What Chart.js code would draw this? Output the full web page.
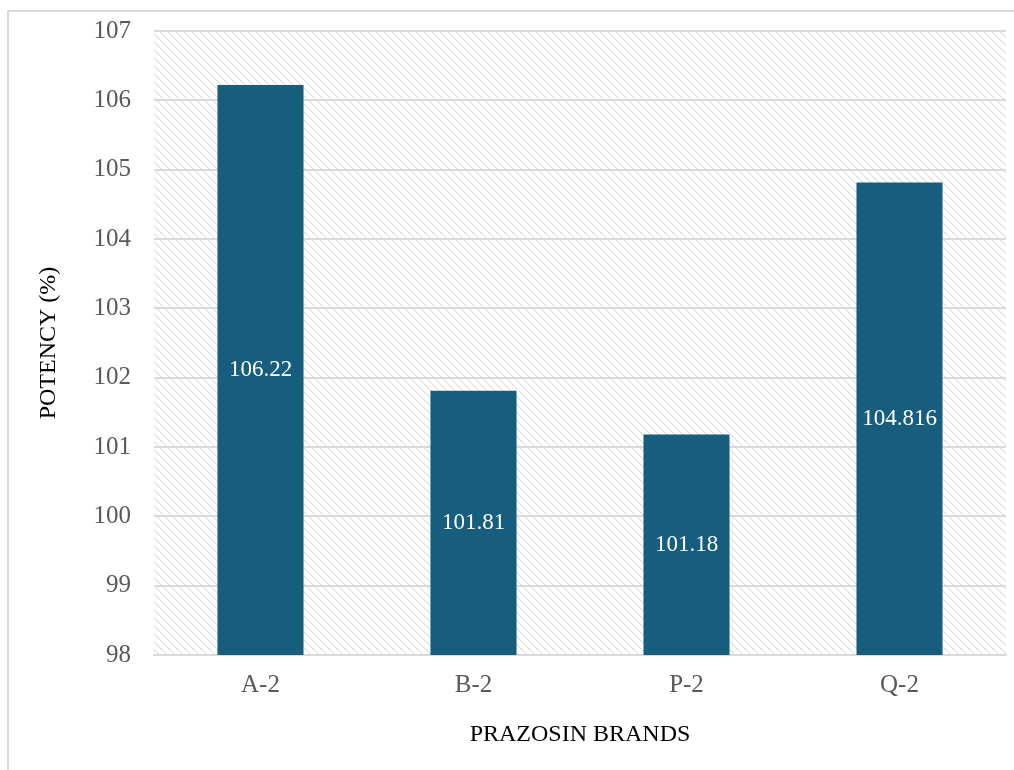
<!DOCTYPE html>
<html>
<head>
<meta charset="utf-8">
<script src="https://cdn.jsdelivr.net/npm/chart.js@4.4.1/dist/chart.umd.min.js"></script>
<style>
  html, body { margin: 0; padding: 0; background: #ffffff; }
  #wrap { width: 1014px; height: 770px; position: relative; }
</style>
</head>
<body>
<div id="wrap"><canvas id="chart" width="1014" height="770"></canvas></div>
<script>
// Potency results per prazosin brand
const brands = ['A-2', 'B-2', 'P-2', 'Q-2'];
const potency = [106.22, 101.81, 101.18, 104.816];
const potencyLabels = ['106.22', '101.81', '101.18', '104.816'];
const yMin = 98;
const yMax = 107;

const FONT = '"Liberation Serif", "Times New Roman", serif';

// Light diagonal hatch used behind the bars
function makeHatch() {
  const c = document.createElement('canvas');
  c.width = 8; c.height = 8;
  const g = c.getContext('2d');
  g.fillStyle = '#ffffff';
  g.fillRect(0, 0, 8, 8);
  for (let i = 0; i < 8; i++) {
    g.fillStyle = (i % 2 === 0) ? '#d6d6d6' : '#e4e4e4';
    g.fillRect(i, i, 1, 1);
    g.fillStyle = '#eeeeee';
    g.fillRect((i + 1) % 8, i, 1, 1);
  }
  return c;
}

const backdrop = {
  id: 'backdrop',
  beforeDraw(chart) {
    const ctx = chart.ctx;
    const a = chart.chartArea;
    ctx.save();
    // outer frame
    ctx.strokeStyle = '#d9d9d9';
    ctx.lineWidth = 2;
    ctx.beginPath();
    ctx.moveTo(8, 780);
    ctx.lineTo(8, 11);
    ctx.lineTo(1030, 11);
    ctx.stroke();
    // hatched plot area
    const pat = ctx.createPattern(makeHatch(), 'repeat');
    ctx.fillStyle = pat;
    ctx.fillRect(a.left, a.top, a.right - a.left, a.bottom - a.top);
    ctx.restore();
  }
};

const valueLabels = {
  id: 'valueLabels',
  afterDatasetsDraw(chart) {
    const ctx = chart.ctx;
    const y = chart.scales.y;
    const meta = chart.getDatasetMeta(0);
    ctx.save();
    ctx.fillStyle = '#ffffff';
    ctx.font = '23px ' + FONT;
    ctx.textAlign = 'center';
    ctx.textBaseline = 'middle';
    meta.data.forEach((bar, i) => {
      const mid = y.getPixelForValue((potency[i] + yMin) / 2);
      ctx.fillText(potencyLabels[i], bar.x, mid);
    });
    ctx.restore();
  }
};

new Chart(document.getElementById('chart'), {
  type: 'bar',
  data: {
    labels: brands,
    datasets: [{
      data: potency,
      backgroundColor: '#175e7e',
      borderWidth: 0,
      categoryPercentage: 1,
      barPercentage: 0.404
    }]
  },
  options: {
    responsive: false,
    animation: false,
    devicePixelRatio: 1,
    layout: { padding: { left: 0, right: 8, top: 31, bottom: 0 } },
    plugins: {
      legend: { display: false },
      tooltip: { enabled: false }
    },
    scales: {
      x: {
        grid: { display: false, drawTicks: false },
        border: { display: true, color: '#d9d9d9', width: 2 },
        ticks: {
          color: '#595959',
          font: { family: FONT, size: 25 },
          padding: 15
        },
        title: {
          display: true,
          text: 'PRAZOSIN BRANDS',
          color: '#000000',
          font: { family: FONT, size: 24 },
          padding: { top: 0, bottom: 21 }
        },
        afterFit(scale) {
          scale.height = 115;
          scale.paddingLeft = 0;
          scale.paddingRight = 0;
        }
      },
      y: {
        min: yMin,
        max: yMax,
        grid: { color: '#d9d9d9', lineWidth: 2, drawTicks: false },
        border: { display: false },
        ticks: {
          stepSize: 1,
          color: '#595959',
          font: { family: FONT, size: 25 },
          padding: 23
        },
        title: {
          display: true,
          text: 'POTENCY (%)',
          color: '#000000',
          font: { family: FONT, size: 24 },
          padding: { top: 34, bottom: 0 }
        },
        afterFit(scale) {
          scale.width = 154;
          scale.paddingTop = 0;
          scale.paddingBottom = 0;
        }
      }
    }
  },
  plugins: [backdrop, valueLabels]
});
</script>
</body>
</html>
